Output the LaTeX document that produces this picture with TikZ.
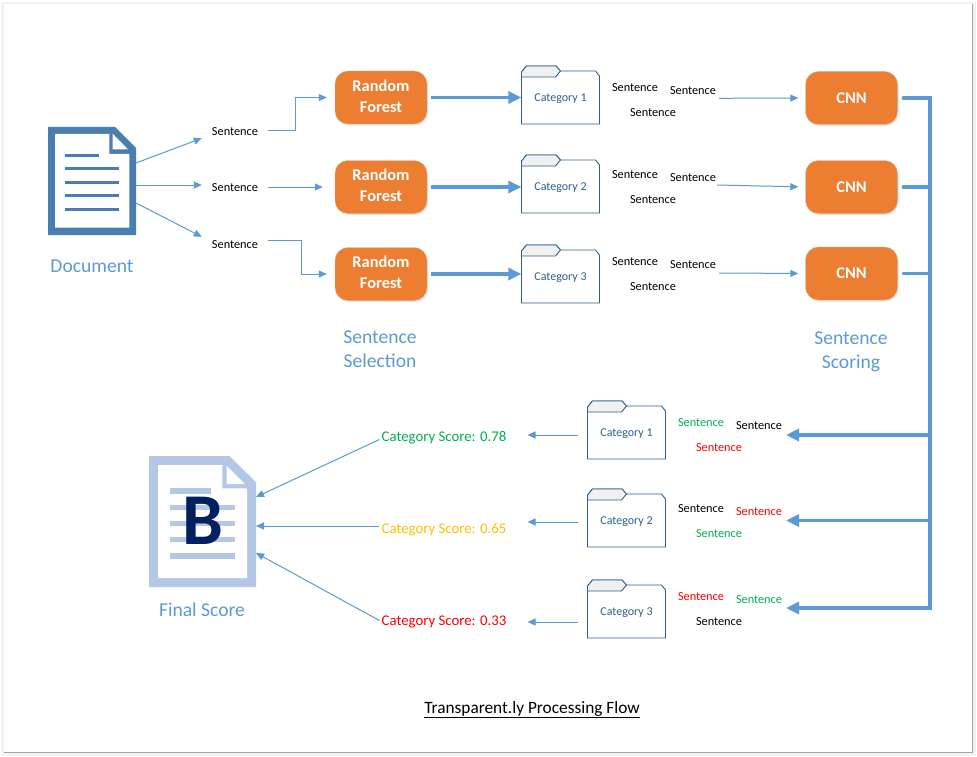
\documentclass[tikz,border=0pt]{standalone}
\usepackage{fontspec}
\setmainfont{Carlito}
\usepackage{xcolor}
\usetikzlibrary{arrows.meta,shadows}
\definecolor{flowblue}{HTML}{5B9BD5}
\definecolor{docblue}{HTML}{4A7EB3}
\definecolor{paleblue}{HTML}{B4C7E7}
\definecolor{navyB}{HTML}{002060}
\definecolor{boxorange}{HTML}{ED7D31}
\definecolor{folderline}{HTML}{2F5F8F}
\definecolor{goodgreen}{HTML}{00B050}
\definecolor{midyellow}{HTML}{FFC000}
\definecolor{badred}{HTML}{FF0000}

\tikzset{
    sen/.style={font=\fontsize{12.3}{14}\selectfont, inner sep=0pt, text height=9pt, text depth=0pt},
    sentence/.style={sen, inner xsep=10pt, minimum height=14pt},
    bigbox/.style={draw=boxorange!55!gray!60, fill=boxorange, rounded corners=13pt, text=white,
        font=\fontsize{16.4}{21}\selectfont\bfseries, align=center, minimum width=92pt, minimum height=53pt,
        drop shadow={opacity=.2, shadow xshift=1pt, shadow yshift=-1.5pt}},
    biglabel/.style={text=flowblue, font=\fontsize{19.6}{24}\selectfont, align=center},
    score/.style={font=\fontsize{14.8}{16}\selectfont, inner sep=0pt},
    thinarrow/.style={draw=flowblue, line width=1pt, -{Triangle[length=8pt,width=7pt]}},
    thickarrow/.style={draw=flowblue, line width=3.2pt, -{Triangle[length=13pt,width=12pt]}},
    busline/.style={draw=flowblue, line width=3.2pt},
    pics/folder/.style={code={
        \draw[folderline, line width=.9pt, fill=white] (0,6) -- (5,0) -- (34.5,0) -- (39,5) -- (74,5) -- (78,10) -- (78,58) -- (0,58) -- cycle;
        \draw[folderline, line width=.9pt, fill=black!6] (0,11) -- (0,6) -- (5,0) -- (34.5,0) -- (39,5) -- (34,11) -- cycle;
        \node[text=folderline, font=\fontsize{12}{14}\selectfont, minimum width=78pt, minimum height=54pt, inner sep=0pt] (-box) at (39,33) {#1};
    }},
}

\begin{document}
\begin{tikzpicture}[x=1pt, y=-1pt]
    \useasboundingbox (0,0) rectangle (977,757);
    \fill[black!5] (1,2) rectangle (976,756);
    \fill[white] (4,4) rectangle (972.5,752);
    \draw[black!35, line width=1pt] (972.5,4) -- (972.5,752) -- (4,752);

    % document icon
    \fill[docblue] (48,127) -- (115,127) -- (136,148) -- (136,235) -- (48,235) -- cycle;
    \fill[white] (55,134) -- (109.3,134) -- (109.3,154) -- (129.3,154) -- (129.3,227.7) -- (55,227.7) -- cycle;
    \fill[white] (112.5,133.5) -- (128,149.3) -- (112.5,149.3) -- cycle;
    \foreach \y/\xe in {155.3/99, 168.7/119, 182.3/119, 195.7/119, 209.3/119}
        \fill[docblue] (65,\y-1.6) rectangle (\xe,\y+1.6);
    \node[biglabel] (document) at (92,266) {Document};
    \coordinate (docA) at (136,163);
    \coordinate (docB) at (136,185);
    \coordinate (docC) at (136,203);

    % final score icon
    \fill[paleblue] (149,456) -- (229.3,456) -- (256,482) -- (256,587) -- (149,587) -- cycle;
    \fill[white] (158,465) -- (222.3,465) -- (222.3,488.3) -- (247,488.3) -- (247,578) -- (158,578) -- cycle;
    \fill[white] (226.7,466) -- (245,484) -- (226.7,484) -- cycle;
    \foreach \y/\xe in {490.7/211, 507.3/235, 523.3/235, 539.3/235, 555.7/235}
        \fill[paleblue] (170,\y-2.8) rectangle (\xe,\y+2.8);
    \node[text=navyB, font=\fontsize{73}{73}\selectfont\bfseries, inner sep=0pt] (grade) at (203,521) {B};
    \node[biglabel] (final) at (202,609.5) {Final Score};
    \coordinate (finalA) at (256,497);
    \coordinate (finalB) at (256,526);
    \coordinate (finalC) at (256,553);

    % sentences out of the document
    \node[sentence] (sA) at (235,131) {Sentence};
    \node[sentence] (sB) at (235,187) {Sentence};
    \node[sentence] (sC) at (235,244) {Sentence};

    % selection and scoring boxes
    \node[bigbox] (rfA) at (381,97.5) {Random\\Forest\vphantom{g}};
    \node[bigbox] (rfB) at (381,187) {Random\\Forest\vphantom{g}};
    \node[bigbox] (rfC) at (381,274) {Random\\Forest\vphantom{g}};
    \node[biglabel] (selection) at (380,349.5) {Sentence\\Selection};

    \node[bigbox] (cnnA) at (851.5,98) {CNN};
    \node[bigbox] (cnnB) at (851.5,187) {CNN};
    \node[bigbox] (cnnC) at (851.5,273.5) {CNN};
    \node[biglabel] (scoring) at (851,352) {Sentence\\Scoring};

    % folders
    \pic (catA) at (521.5,66) {folder={Category 1}};
    \pic (catB) at (521.5,155) {folder={Category 2}};
    \pic (catC) at (521.5,245) {folder={Category 3}};
    \pic (lowA) at (587.5,401) {folder={Category 1}};
    \pic (lowB) at (587.5,489) {folder={Category 2}};
    \pic (lowC) at (587.5,580) {folder={Category 3}};

    % upper sentence groups
    \node[sen] (upAa) at (635,87) {Sentence};
    \node[sen] (upAb) at (693,90) {Sentence};
    \node[sen] (upAc) at (653,112) {Sentence};
    \node[sen] (upBa) at (635,174) {Sentence};
    \node[sen] (upBb) at (693,177) {Sentence};
    \node[sen] (upBc) at (653,199) {Sentence};
    \node[sen] (upCa) at (635,261) {Sentence};
    \node[sen] (upCb) at (693,264) {Sentence};
    \node[sen] (upCc) at (653,286) {Sentence};
    \coordinate (outA) at (719,98.3);
    \coordinate (outB) at (717,185);
    \coordinate (outC) at (719,273);

    % lower sentence groups
    \node[sen, text=goodgreen] (loAa) at (701,422) {Sentence};
    \node[sen] (loAb) at (759,425) {Sentence};
    \node[sen, text=badred] (loAc) at (719,447) {Sentence};
    \node[sen] (loBa) at (701,508) {Sentence};
    \node[sen, text=badred] (loBb) at (759,511) {Sentence};
    \node[sen, text=goodgreen] (loBc) at (719,533) {Sentence};
    \node[sen, text=badred] (loCa) at (701,596) {Sentence};
    \node[sen, text=goodgreen] (loCb) at (759,599) {Sentence};
    \node[sen] (loCc) at (719,621) {Sentence};

    % category scores
    \node[score, text=goodgreen] (scoreA) at (444,437.5) {Category Score: 0.78};
    \node[score, text=midyellow] (scoreB) at (444,529.5) {Category Score: 0.65};
    \node[score, text=badred] (scoreC) at (444,621.5) {Category Score: 0.33};

    \node[font=\fontsize{17.3}{20}\selectfont, inner sep=0pt] (title) at (532,709.5) {\underline{Transparent.ly Processing Flow}};

    % document to sentences
    \draw[thinarrow] (docA) to (sA.south west);
    \draw[thinarrow] (docB) to (docB -| sB.west);
    \draw[thinarrow] (docC) to (sC.north west);

    % sentences to random forests
    \draw[thinarrow, shorten >=8pt] (sA.east) -- (295.5,131) |- (rfA.west);
    \draw[thinarrow, shorten >=12pt] (sB.east) to (rfB.west);
    \draw[thinarrow, shorten >=8pt] ([yshift=4pt]sC.east) -- (301.5,240) |- (rfC.west);

    % random forests to folders
    \draw[thickarrow, shorten <=4pt] (rfA.east) to (rfA.east -| catA-box.west);
    \draw[thickarrow, shorten <=4pt] (rfB.east) to (rfB.east -| catB-box.west);
    \draw[thickarrow, shorten <=4pt] (rfC.east) to (rfC.east -| catC-box.west);

    % sentence groups to cnn
    \draw[thinarrow, shorten >=7pt] (outA) to (cnnA.west);
    \draw[thinarrow, shorten >=7pt] (outB) to (cnnB.west);
    \draw[thinarrow, shorten >=7pt] (outC) to (cnnC.west);

    % cnn bus and way back
    \coordinate (busTop) at (930,98);
    \coordinate (busEnd) at (930,608);
    \coordinate (backA) at (930,435);
    \coordinate (backB) at (930,520.5);
    \coordinate (backC) at (930,608);
    \draw[busline, line cap=round, shorten <=5.5pt] (cnnA.east) -- (busTop);
    \draw[busline, line cap=round, shorten <=5.5pt] (cnnB.east) -- (cnnB.east -| busTop);
    \draw[busline, line cap=round, shorten <=5.5pt] (cnnC.east) -- (cnnC.east -| busTop);
    \draw[busline, line cap=rect] (busTop) -- (busEnd);
    \coordinate (tipA) at (786,435);
    \coordinate (tipB) at (786,520.5);
    \coordinate (tipC) at (786,608);
    \draw[thickarrow] (backA) to (tipA);
    \draw[thickarrow] (backB) to (tipB);
    \draw[thickarrow] (backC) to (tipC);

    % folders to scores
    \coordinate (fromA) at (578,435);
    \coordinate (fromB) at (578,522);
    \coordinate (fromC) at (578,622);
    \draw[thinarrow, shorten >=21pt] (fromA) to (fromA -| scoreA.east);
    \draw[thinarrow, shorten >=21pt] (fromB) to (fromB -| scoreB.east);
    \draw[thinarrow, shorten >=21pt] (fromC) to (fromC -| scoreC.east);

    % scores to final
    \draw[thinarrow] ([xshift=-2pt,yshift=-2pt]scoreA.west) to (finalA);
    \draw[thinarrow] ([xshift=-2pt,yshift=3.5pt]scoreB.west) to (finalB);
    \draw[thinarrow] ([xshift=-2pt,yshift=1pt]scoreC.west) to (finalC);
\end{tikzpicture}
\end{document}
